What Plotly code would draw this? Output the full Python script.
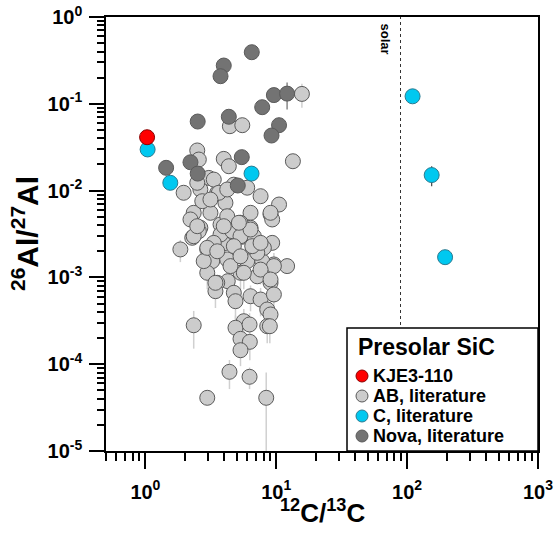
import math
import plotly.graph_objects as go

# ---------------- data ----------------
kje_x = [1.03]
kje_y = [0.0412]

c_x = [1.04, 1.55, 6.47, 110, 154, 195]
c_y = [0.0298, 0.0123, 0.0157, 0.122, 0.0151, 0.00171]
c_err_up = [0, 0, 0, 0, 0.0040, 0]
c_err_dn = [0, 0, 0, 0, 0.0039, 0]

nova_x = [6.5, 3.97, 3.75, 9.59, 12.1, 7.81, 2.51, 4.34, 10.5, 9.2,
          5.45, 1.44, 2.21, 2.51, 5.08]
nova_y = [0.393, 0.276, 0.208, 0.126, 0.131, 0.0914, 0.0625, 0.0709, 0.0567, 0.0431,
          0.0243, 0.0183, 0.0212, 0.0157, 0.01145]
nova_err_up = [0, 0, 0, 0, 0.045, 0, 0, 0, 0, 0, 0, 0, 0, 0, 0]
nova_err_dn = [0, 0, 0, 0, 0.045, 0, 0, 0, 0, 0, 0, 0, 0, 0, 0]

ab_x = [4.42, 5.50, 15.7, 13.4, 2.49, 3.97, 4.34, 1.96, 3.05, 3.54,
        2.63, 4.09, 3.14, 2.34, 2.72, 6.00, 4.74, 6.36, 7.59, 9.04,
        10.5, 9.31, 3.75, 6.36, 2.63, 2.21, 4.74, 3.33, 2.49, 5.33,
        4.22, 2.56,
        1.85, 2.56, 2.28, 2.97, 3.24, 2.97, 3.97, 3.75, 5.50, 6.55,
        6.00, 4.22, 5.33, 4.26, 3.54, 3.43, 4.74, 4.88, 6.36, 7.59,
        7.16, 9.04, 9.59, 9.31, 9.59, 12.1, 7.81, 8.04, 6.74, 8.53,
        9.04, 5.65, 4.47, 2.79, 3.33, 4.61,
        3.64, 4.22, 5.33, 6.36, 9.04, 3.97, 7.16, 9.59, 3.43, 5.65,
        7.59, 9.04, 2.97, 2.34, 4.74, 3.14, 2.49, 5.18, 6.55, 3.54,
        5.33, 7.59,
        2.34, 4.88, 6.25, 8.53, 8.93, 5.33, 6.28, 5.33, 4.39, 6.25,
        2.97, 8.38]
ab_y = [0.0552, 0.0567, 0.130, 0.0218, 0.029, 0.0232, 0.0191, 0.00944, 0.0140, 0.00944,
        0.0103, 0.00723, 0.00555, 0.00555, 0.00755, 0.0108, 0.0117, 0.00555, 0.00862, 0.00531,
        0.00691, 0.00465, 0.00407, 0.00373, 0.00373, 0.00465, 0.00389, 0.0134, 0.0123, 0.00426,
        0.00507, 0.0228,
        0.00210, 0.00341, 0.00286, 0.00210, 0.00154, 0.00113, 0.00246, 0.00312, 0.00294, 0.00192,
        0.00154, 0.00161, 0.00113, 0.000904, 0.000866, 0.000694, 0.000665, 0.000532, 0.000607, 0.000556,
        0.00103, 0.000866, 0.000636, 0.00250, 0.00141, 0.00135, 0.00154, 0.00219, 0.00298, 0.000427,
        0.000374, 0.000313, 0.00135, 0.00154, 0.00250, 0.00341,
        0.00944, 0.0103, 0.00298, 0.00356, 0.00555, 0.00389, 0.00192, 0.00135, 0.000866, 0.00113,
        0.00123, 0.000946, 0.00219, 0.00298, 0.00229, 0.00789, 0.00389, 0.00426, 0.00229, 0.00200,
        0.00175, 0.00250,
        0.000281, 0.000263, 0.000287, 0.000274, 0.000274, 0.000196, 0.000181, 0.000145, 0.0000817, 0.0000716,
        0.0000410, 0.0000410]
ab_err = [0, 0, 0.04, 0, 0, 0, 0, 0, 0, 0,
          0, 0, 0, 0, 0, 0, 0, 0, 0, 0.0015,
          0, 0, 0, 0, 0, 0, 0, 0, 0, 0,
          0, 0,
          0.0006, 0, 0, 0, 0, 0.0004, 0, 0, 0, 0,
          0.0005, 0, 0.0004, 0.0003, 0, 0.00025, 0, 0.0002, 0.0002, 0.0002,
          0, 0.0003, 0.0002, 0, 0.0005, 0, 0.0005, 0, 0, 0.00015,
          0.00015, 0.00012, 0, 0, 0, 0,
          0, 0, 0, 0, 0, 0, 0, 0.0004, 0, 0.0004,
          0.0004, 0, 0, 0, 0, 0, 0, 0, 0, 0,
          0, 0,
          0.00013, 0.0001, 0.0001, 0.0001, 0.0001, 0.00008, 0.00007, 0.00005, 0.00003, 0.00002,
          0, 0.000039]

solar_ratio = 89

x_tick_vals = [1, 10, 100, 1000]
x_tick_text = ["10<sup>0</sup>", "10<sup>1</sup>", "10<sup>2</sup>", "10<sup>3</sup>"]
y_tick_vals = [1e-5, 1e-4, 1e-3, 1e-2, 1e-1, 1]
y_tick_text = ["10<sup>-5</sup>", "10<sup>-4</sup>", "10<sup>-3</sup>",
               "10<sup>-2</sup>", "10<sup>-1</sup>", "10<sup>0</sup>"]

legend_title = "Presolar SiC"
legend_names = ["KJE3-110", "AB, literature", "C, literature", "Nova, literature"]
legend_fill = ["#ff0000", "#cccccc", "#00c8f0", "#737373"]
legend_edge = ["#8a0000", "#5a5a5a", "#2a7a90", "#5a5a5a"]

# ---------------- layout geometry (pixels) ----------------
W, H = 556, 533
ML, MR, MT, MB = 106, 18, 17, 82
PW, PH = W - ML - MR, H - MT - MB


def px_x(p):  # page pixel -> paper fraction
    return (p - ML) / PW


def px_y(p):
    return (H - MB - p) / PH


FONT = "Liberation Sans, Arial, sans-serif"
MS = 15
edge = dict(color="#5a5a5a", width=1)

fig = go.Figure()

fig.add_trace(go.Scatter(
    x=[solar_ratio, solar_ratio], y=[1e-5, 1], mode="lines",
    line=dict(color="#333333", width=1, dash="dot"),
    showlegend=False, hoverinfo="skip"))

fig.add_trace(go.Scatter(
    x=ab_x, y=ab_y, mode="markers", name=legend_names[1], showlegend=False,
    marker=dict(size=MS, color=legend_fill[1], line=edge),
    error_y=dict(type="data", array=ab_err, symmetric=True,
                 color="#d0d0d0", thickness=1.5, width=0)))

fig.add_trace(go.Scatter(
    x=nova_x, y=nova_y, mode="markers", name=legend_names[3], showlegend=False,
    marker=dict(size=MS, color=legend_fill[3], line=edge),
    error_y=dict(type="data", array=nova_err_up, arrayminus=nova_err_dn,
                 color="#888888", thickness=1.5, width=0)))

fig.add_trace(go.Scatter(
    x=c_x, y=c_y, mode="markers", name=legend_names[2], showlegend=False,
    marker=dict(size=MS, color=legend_fill[2], line=dict(color=legend_edge[2], width=1)),
    error_y=dict(type="data", array=c_err_up, arrayminus=c_err_dn,
                 color="#444444", thickness=1.2, width=0)))

fig.add_trace(go.Scatter(
    x=kje_x, y=kje_y, mode="markers", name=legend_names[0], showlegend=False,
    marker=dict(size=MS, color=legend_fill[0], line=dict(color=legend_edge[0], width=1))))

x_minor = [m * 10 ** d for d in range(-1, 3) for m in range(2, 10) if m * 10 ** d >= 0.5]
y_minor = [m * 10 ** d for d in range(-5, 0) for m in range(2, 10)]

axis_common = dict(
    type="log", showgrid=False, zeroline=False, automargin=False,
    showline=True, linecolor="black", linewidth=1.5, mirror=True,
    ticks="outside", tickwidth=1.5, tickcolor="black",
    ticklabeloverflow="allow",
    tickfont=dict(family=FONT, size=20, color="black", weight="bold"),
)

fig.update_xaxes(
    **axis_common, ticklen=16, ticklabelstandoff=6,
    range=[math.log10(0.5), 3],
    tickmode="array", tickvals=x_tick_vals, ticktext=x_tick_text,
    minor=dict(tickmode="array", tickvals=x_minor, ticks="outside",
               ticklen=8, tickwidth=1.5, tickcolor="black", showgrid=False),
)
fig.update_yaxes(
    **axis_common, ticklen=15, ticklabelstandoff=3,
    range=[-5, 0],
    tickmode="array", tickvals=y_tick_vals, ticktext=y_tick_text,
    minor=dict(tickmode="array", tickvals=y_minor, ticks="outside",
               ticklen=7, tickwidth=1.5, tickcolor="black", showgrid=False),
)

# axis titles
fig.add_annotation(
    x=0.5, y=px_y(511), xref="paper", yref="paper",
    xanchor="center", yanchor="middle", showarrow=False,
    text="<b><sup>12</sup>C/<sup>13</sup>C</b>",
    font=dict(family=FONT, size=26, color="black"))
fig.add_annotation(
    x=px_x(25), y=0.5, xref="paper", yref="paper",
    xanchor="center", yanchor="middle", showarrow=False, textangle=-90,
    text="<b><sup>26</sup>Al/<sup>27</sup>Al</b>",
    font=dict(family=FONT, size=30, color="black"))

fig.add_annotation(
    x=math.log10(solar_ratio), y=0, xref="x", yref="y",
    text="<b>solar</b>", textangle=90, showarrow=False,
    xanchor="right", yanchor="top", xshift=-6, yshift=-4,
    font=dict(family=FONT, size=13, color="black"))

# legend box
shapes = [dict(type="rect", xref="paper", yref="paper",
               x0=px_x(347), x1=1, y0=0, y1=px_y(328),
               fillcolor="white", line=dict(color="black", width=1.5), layer="above")]
fig.add_annotation(
    x=px_x(356), y=px_y(347), xref="paper", yref="paper",
    xanchor="left", yanchor="middle", showarrow=False,
    text="<b>" + legend_title + "</b>",
    font=dict(family=FONT, size=23, color="black"))
item_y = [376, 396, 416, 436]
for name, fc, ec, yy in zip(legend_names, legend_fill, legend_edge, item_y):
    shapes.append(dict(type="circle", xref="paper", yref="paper",
                       xsizemode="pixel", ysizemode="pixel",
                       xanchor=px_x(362), yanchor=px_y(yy),
                       x0=-6, x1=6, y0=-6, y1=6,
                       fillcolor=fc, line=dict(color=ec, width=1), layer="above"))
    fig.add_annotation(
        x=px_x(371), y=px_y(yy), xref="paper", yref="paper",
        xanchor="left", yanchor="middle", showarrow=False,
        text="<b>" + name + "</b>",
        font=dict(family=FONT, size=18, color="black"))

fig.update_layout(
    width=W, height=H,
    margin=dict(l=ML, r=MR, t=MT, b=MB),
    paper_bgcolor="white", plot_bgcolor="white",
    font=dict(family=FONT, color="black"),
    showlegend=False,
    shapes=shapes,
)

fig.write_html("out.html",
               config={"displayModeBar": False},
               post_script="document.body.style.margin='0px';document.body.style.overflow='hidden';")
